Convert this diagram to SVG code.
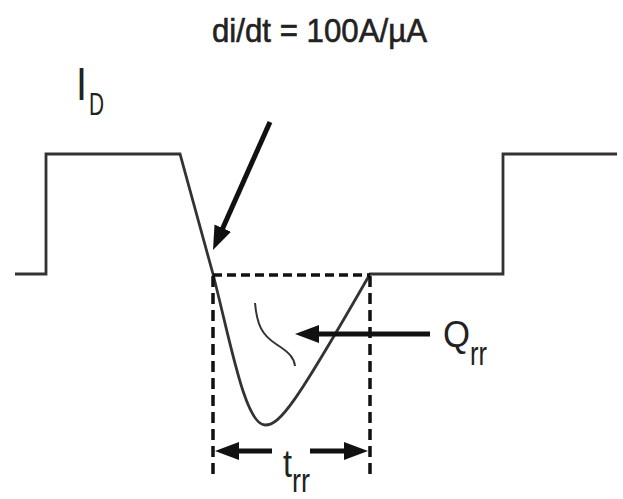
<svg xmlns="http://www.w3.org/2000/svg" width="623" height="499" viewBox="0 0 623 499">
  <defs>
    <marker id="head" viewBox="0 0 24 18" markerWidth="24" markerHeight="18" refX="8" refY="9" orient="auto" markerUnits="userSpaceOnUse">
      <path d="M0,0 L24,9 L0,18 z" fill="#111"/>
    </marker>
  </defs>
  <style>
    .wave { fill: none; stroke: #333; stroke-width: 2.8; stroke-linejoin: miter; }
    .thin { fill: none; stroke: #333; stroke-width: 2; }
    .dash { fill: none; stroke: #111; stroke-width: 3.5; }
    .arrow { fill: none; stroke: #111; stroke-width: 5; }
    .lbl { font-family: "Liberation Sans", Arial, sans-serif; fill: #222; }
  </style>
  <rect width="623" height="499" fill="#fff"/>

  <g id="waveform">
    <path class="wave" d="M15,274 H46 V154 H180 L213,274 C230,340 245,425 265,425 C280,425 295,405 370,274 H503 V154 H617"/>
    <path class="thin" d="M255,303 C257,325 262,335 276,344 C290,353 294,358 295,366"/>
  </g>

  <g id="trr-box">
    <path class="dash" d="M213,275 H370" stroke-dasharray="9,5"/>
    <path class="dash" d="M213,276 V474" stroke-dasharray="11,6" stroke-width="3"/>
    <path class="dash" d="M370,276 V474" stroke-dasharray="11,6" stroke-width="3"/>
  </g>

  <g id="connectors">
    <line class="arrow" x1="270" y1="122" x2="219.5" y2="235.4" marker-end="url(#head)"/>
    <line class="arrow" x1="430" y1="334" x2="311" y2="334" marker-end="url(#head)"/>
    <line class="arrow" x1="272" y1="451" x2="231" y2="451" marker-end="url(#head)"/>
    <line class="arrow" x1="310" y1="451" x2="352" y2="451" marker-end="url(#head)"/>
  </g>

  <g id="title">
    <text class="lbl" x="212" y="42" font-size="33" textLength="215" lengthAdjust="spacingAndGlyphs" stroke="#222" stroke-width="0.6">di/dt = 100A/µA</text>
  </g>
  <g id="label-ID">
    <text class="lbl" x="76" y="100" font-size="46" textLength="11" lengthAdjust="spacingAndGlyphs">I</text>
    <text class="lbl" x="89" y="115" font-size="32" textLength="15" lengthAdjust="spacingAndGlyphs">D</text>
  </g>
  <g id="label-Qrr">
    <text class="lbl" x="443" y="347" font-size="37" textLength="27" lengthAdjust="spacingAndGlyphs">Q</text>
    <text class="lbl" x="470" y="365" font-size="34" textLength="17" lengthAdjust="spacingAndGlyphs">rr</text>
  </g>
  <g id="label-trr">
    <text class="lbl" x="283" y="477" font-size="38" textLength="9" lengthAdjust="spacingAndGlyphs">t</text>
    <text class="lbl" x="292" y="492" font-size="34" textLength="18" lengthAdjust="spacingAndGlyphs">rr</text>
  </g>
</svg>
